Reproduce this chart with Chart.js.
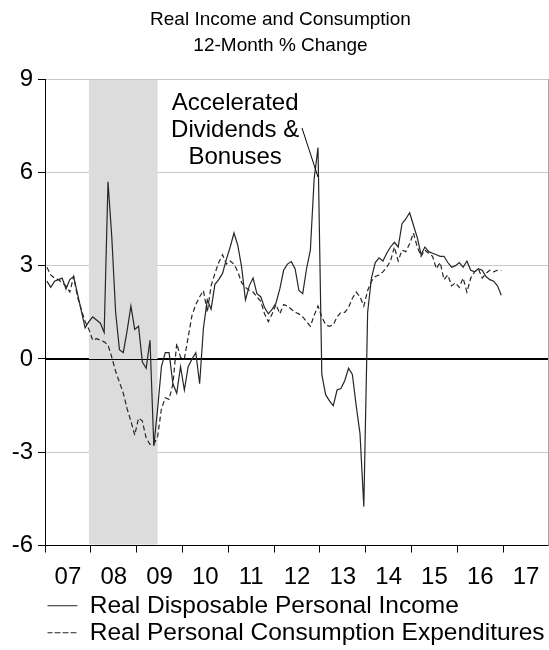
<!DOCTYPE html>
<html>
<head>
<meta charset="utf-8">
<title>Real Income and Consumption</title>
<script src="https://cdn.jsdelivr.net/npm/chart.js@4.4.1/dist/chart.umd.min.js"></script>
<style>
  html, body { margin: 0; padding: 0; background: #fff; }
  #wrap { width: 549px; height: 650px; position: relative; }
</style>
</head>
<body>
<div id="wrap"><canvas id="incomeChart"></canvas></div>
<script>
// Monthly 12-month % change, Jan 2007 .. Dec 2016 (index 0 = Jan 2007)
const income = [
  2.5, 2.3, 2.5, 2.55, 2.6, 2.25, 2.55, 2.65, 2.1, 1.55, 1.0, 1.2,
  1.35, 1.25, 1.15, 0.85, 5.7, 3.9, 1.5, 0.3, 0.2, 0.9, 1.7, 0.95,
  1.05, -0.1, -0.3, 0.6, -2.8, -1.6, -0.25, 0.2, 0.2, -0.8, -1.1, -0.25,
  -1.0, -0.25, 0.0, 0.2, -0.8, 1.0, 1.9, 1.6, 2.4, 2.55, 2.75, 3.2,
  3.6, 4.05, 3.65, 2.95, 1.9, 2.35, 2.6, 2.1, 2.0, 1.65, 1.45, 1.6,
  1.8, 2.25, 2.85, 3.05, 3.13, 2.9, 2.2, 2.1, 2.9, 3.5, 5.8, 6.8,
  -0.5, -1.15, -1.35, -1.5, -1.0, -0.95, -0.7, -0.3, -0.5, -1.5, -2.4, -4.75,
  1.5, 2.6, 3.1, 3.25, 3.15, 3.4, 3.6, 3.75, 3.6, 4.35, 4.5, 4.7,
  4.3, 3.9, 3.35, 3.6, 3.45, 3.4, 3.35, 3.3, 3.3, 3.1, 2.95, 3.0,
  3.1, 2.95, 3.15, 2.85, 2.8, 2.9, 2.85, 2.65, 2.55, 2.5, 2.35, 2.05
];
const consumption = [
  2.95, 2.7, 2.6, 2.55, 2.45, 2.35, 2.15, 2.65, 2.0, 1.6, 1.2, 0.95,
  0.6, 0.65, 0.6, 0.55, 0.45, 0.05, -0.4, -0.75, -1.1, -1.6, -2.0, -2.45,
  -1.9, -2.0, -2.55, -2.75, -2.75, -2.5, -1.6, -1.25, -1.3, -0.8, 0.5, 0.05,
  0.0, 0.7, 1.4, 1.75, 2.0, 2.2, 1.5, 2.35, 2.75, 3.1, 3.35, 3.05,
  3.15, 3.05, 2.8, 2.45, 2.3, 2.2, 2.15, 2.0, 1.85, 1.45, 1.2, 1.45,
  1.75, 1.45, 1.75, 1.7, 1.6, 1.5, 1.45, 1.35, 1.2, 1.05, 1.4, 1.7,
  1.35, 1.1, 1.05, 1.1, 1.35, 1.5, 1.5, 1.65, 1.95, 2.15, 2.0, 1.7,
  2.2, 2.5, 2.65, 2.7, 2.8, 2.95, 3.15, 3.6, 3.15, 3.5, 3.45, 3.7,
  4.05, 3.6, 3.3, 3.5, 3.4, 3.3, 2.9, 3.1, 2.55, 2.7, 2.35, 2.45,
  2.3, 2.6, 2.15, 2.6, 2.8, 2.9, 2.6, 2.75, 2.85, 2.8, 2.85, 2.85
];
const yearLabels = ['07', '08', '09', '10', '11', '12', '13', '14', '15', '16', '17'];
const yTicks = [-6, -3, 0, 3, 6, 9];
const recession = [11, 29];              // Dec 2007 .. Jun 2009 (month index)

// note text and pointer, in data units (month index, %)
const noteLines = ['Accelerated', 'Dividends &', 'Bonuses'];
const noteX = 49.3;
const noteY = [8.23, 7.34, 6.47];
const pointerFrom = [66.8, 7.43];
const pointerTo = [71.0, 5.85];

const FONT = 'Arial, "Liberation Sans", sans-serif';
Chart.defaults.font.family = FONT;
Chart.defaults.color = '#000';

// year boundaries (even k) and year midpoints (odd k) on the month axis
const xTickValues = [];
for (let k = 0; k <= yearLabels.length * 2; k++) xTickValues.push(-0.5 + 6 * k);

const toPoints = arr => arr.map((v, i) => ({ x: i, y: v }));

const recessionShade = {
  id: 'recessionShade',
  beforeDatasetsDraw(chart) {
    const { ctx, chartArea: a, scales: { x, y } } = chart;
    const x0 = x.getPixelForValue(recession[0]);
    const x1 = x.getPixelForValue(recession[1]);
    ctx.save();
    ctx.fillStyle = '#dcdcdc';
    ctx.fillRect(x0, a.top + 1, x1 - x0, a.bottom - a.top - 2);
    // zero line stays on top of the shading
    const y0 = Math.round(y.getPixelForValue(0)) + 0.5;
    ctx.strokeStyle = '#000';
    ctx.lineWidth = 1;
    ctx.beginPath();
    ctx.moveTo(a.left, y0);
    ctx.lineTo(a.right, y0);
    ctx.stroke();
    // right frame
    ctx.strokeStyle = '#a6a6a6';
    ctx.beginPath();
    ctx.moveTo(a.right - 0.5, a.top);
    ctx.lineTo(a.right - 0.5, a.bottom);
    ctx.stroke();
    ctx.restore();
  }
};

const noteLabel = {
  id: 'noteLabel',
  afterDatasetsDraw(chart) {
    const { ctx, scales: { x, y } } = chart;
    ctx.save();
    ctx.font = '24px ' + FONT;
    ctx.fillStyle = '#000';
    ctx.textAlign = 'center';
    ctx.textBaseline = 'middle';
    noteLines.forEach((t, k) => {
      ctx.fillText(t, x.getPixelForValue(noteX), y.getPixelForValue(noteY[k]));
    });
    ctx.strokeStyle = '#000';
    ctx.lineWidth = 1;
    ctx.beginPath();
    ctx.moveTo(x.getPixelForValue(pointerFrom[0]), y.getPixelForValue(pointerFrom[1]));
    ctx.lineTo(x.getPixelForValue(pointerTo[0]), y.getPixelForValue(pointerTo[1]));
    ctx.stroke();
    ctx.restore();
  }
};

new Chart(document.getElementById('incomeChart'), {
  type: 'line',
  data: {
    datasets: [{
      label: 'Real Disposable Personal Income',
      data: toPoints(income),
      borderColor: '#262626',
      borderWidth: 1.2,
      pointRadius: 0,
      tension: 0,
      fill: false
    }, {
      label: 'Real Personal Consumption Expenditures',
      data: toPoints(consumption),
      borderColor: '#262626',
      borderWidth: 1.2,
      borderDash: [5, 3],
      pointRadius: 0,
      tension: 0,
      fill: false
    }]
  },
  options: {
    responsive: true,
    maintainAspectRatio: false,
    animation: false,
    layout: { padding: { left: 12, right: 0, top: 0, bottom: -5 } },
    plugins: {
      title: {
        display: true,
        text: ['Real Income and Consumption', '12-Month % Change'],
        color: '#000',
        font: { size: 19, weight: 'normal', lineHeight: 1.37 },
        padding: { top: 7, bottom: 20 }
      },
      legend: {
        position: 'bottom',
        align: 'start',
        fullSize: false,
        labels: {
          boxWidth: 30,
          boxHeight: 0,
          padding: 2.5,
          color: '#000',
          font: { size: 24.5 },
          generateLabels: chart => chart.data.datasets.map((d, i) => ({
            text: d.label,
            datasetIndex: i,
            fillStyle: 'rgba(0,0,0,0)',
            strokeStyle: '#262626',
            lineWidth: 1.2,
            lineDash: d.borderDash || [],
            hidden: false
          }))
        }
      },
      tooltip: { enabled: false }
    },
    scales: {
      x: {
        type: 'linear',
        min: -0.5,
        max: 131.5,
        afterBuildTicks: s => { s.ticks = xTickValues.map(v => ({ value: v })); },
        afterFit: s => { s.paddingLeft = 0; s.paddingRight = 0; s.height = 45.5; },
        ticks: {
          autoSkip: false,
          maxRotation: 0,
          minRotation: 0,
          padding: 10,
          color: '#000',
          font: { size: 24 },
          callback: (v, i) => (i % 2 === 1 ? yearLabels[(i - 1) / 2] : '')
        },
        grid: {
          drawOnChartArea: false,
          drawTicks: true,
          tickLength: 7,
          tickColor: c => (c.index % 2 === 0 ? '#000' : 'rgba(0,0,0,0)')
        },
        border: { color: '#000' }
      },
      y: {
        min: -6,
        max: 9,
        afterBuildTicks: s => { s.ticks = yTicks.map(v => ({ value: v })); },
        afterFit: s => { s.width = 33; },
        ticks: {
          padding: 5,
          color: '#000',
          font: { size: 24 },
          callback: v => String(v)
        },
        grid: {
          color: c => (c.tick && (c.tick.value === 0 || c.tick.value === -6) ? '#000' : '#c8c8c8'),
          tickColor: '#000',
          tickLength: 7
        },
        border: { color: '#000' }
      }
    }
  },
  plugins: [recessionShade, noteLabel]
});
</script>
</body>
</html>
